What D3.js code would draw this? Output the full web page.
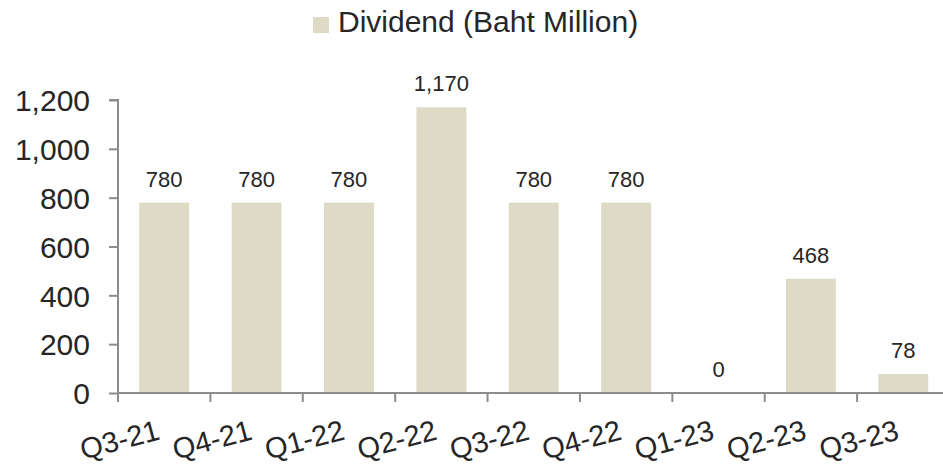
<!DOCTYPE html>
<html>
<head>
<meta charset="utf-8">
<script src="https://cdn.jsdelivr.net/npm/d3@7"></script>
<style>
  body { margin: 0; background: #fff; }
  text { font-family: "Liberation Sans", Arial, sans-serif; fill: #262626; }
</style>
</head>
<body>
<div id="chart"></div>
<script>
var svgWidth = 943;
var svgHeight = 466;

// data
var quarters = ["Q3-21", "Q4-21", "Q1-22", "Q2-22", "Q3-22", "Q4-22", "Q1-23", "Q2-23", "Q3-23"];
var dividend = [780, 780, 780, 1170, 780, 780, 0, 468, 78];
var yTicks = [0, 200, 400, 600, 800, 1000, 1200];
var seriesName = "Dividend (Baht Million)";

var barColor = "#dddbc6";
var axisColor = "#8c8c8c";

var svg = d3.select("#chart")
  .append("svg")
  .attr("width", svgWidth)
  .attr("height", svgHeight);

// scales
var x = d3.scaleBand()
  .domain(quarters)
  .range([118, 949.5])
  .paddingInner(0.46)
  .paddingOuter(0.23);

var y = d3.scaleLinear()
  .domain([0, 1200])
  .range([393, 100]);

var step = x.step();

// bars
svg.selectAll("rect.bar")
  .data(dividend)
  .enter()
  .append("rect")
  .attr("class", "bar")
  .attr("x", (d, i) => x(quarters[i]))
  .attr("y", d => y(d))
  .attr("width", x.bandwidth())
  .attr("height", d => y(0) - y(d))
  .attr("fill", barColor);

// value labels
svg.selectAll("text.val")
  .data(dividend)
  .enter()
  .append("text")
  .attr("class", "val")
  .attr("x", (d, i) => x(quarters[i]) + x.bandwidth() / 2)
  .attr("y", d => y(d) - 16)
  .attr("text-anchor", "middle")
  .style("font-size", "22px")
  .text(d => d3.format(",")(d));

// y axis
var leftAxis = d3.axisLeft(y)
  .tickValues(yTicks)
  .tickSize(9)
  .tickPadding(19)
  .tickFormat(d3.format(","));

var yAxis = svg.append("g")
  .attr("transform", "translate(118,0)")
  .call(leftAxis);

yAxis.select(".domain").attr("stroke", axisColor).attr("stroke-width", 2)
  .attr("d", "M-9," + y(1200) + "H0V" + y(0));
yAxis.selectAll(".tick line").attr("stroke", axisColor).attr("stroke-width", 2);
yAxis.selectAll(".tick text")
  .attr("dy", "0.36em")
  .style("font-size", "30px")
  .style("font-family", "'Liberation Sans', Arial, sans-serif")
  .attr("fill", "#262626");

// x axis line
svg.append("line")
  .attr("x1", 118)
  .attr("x2", svgWidth)
  .attr("y1", y(0))
  .attr("y2", y(0))
  .attr("stroke", axisColor)
  .attr("stroke-width", 2);

// x tick marks sit on the band boundaries
var bounds = quarters.map(q => x(q) - step * x.paddingInner() / 2);
svg.selectAll("line.xtick")
  .data(bounds)
  .enter()
  .append("line")
  .attr("class", "xtick")
  .attr("x1", d => d)
  .attr("x2", d => d)
  .attr("y1", y(0))
  .attr("y2", y(0) + 9)
  .attr("stroke", axisColor)
  .attr("stroke-width", 2);

// rotated category labels
svg.selectAll("text.cat")
  .data(quarters)
  .enter()
  .append("text")
  .attr("class", "cat")
  .attr("text-anchor", "end")
  .attr("transform", d => "translate(" + (x(d) + x.bandwidth() / 2 - 3) + ",439) rotate(-15)")
  .style("font-size", "29px")
  .text(d => d);

// legend
svg.append("rect")
  .attr("x", 313)
  .attr("y", 17)
  .attr("width", 16)
  .attr("height", 16)
  .attr("fill", barColor);

svg.append("text")
  .attr("x", 338)
  .attr("y", 32)
  .style("font-size", "30px")
  .text(seriesName);
</script>
</body>
</html>
